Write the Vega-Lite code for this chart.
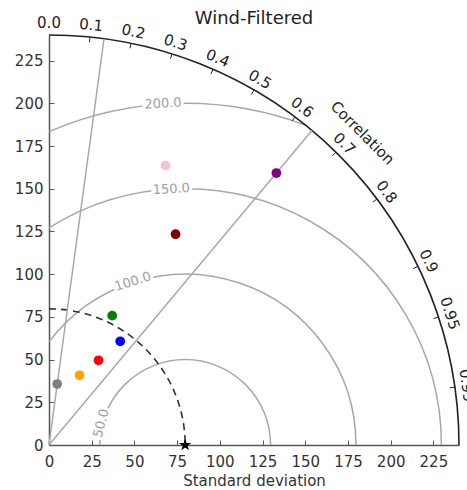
{
  "$schema": "https://vega.github.io/schema/vega-lite/v6.json",
  "width": 410,
  "height": 410,
  "autosize": {"type": "none"},
  "padding": {"left": 49, "top": 35, "right": 8, "bottom": 45},
  "title": {"text": "Wind-Filtered", "font": "DejaVu Sans", "fontSize": 18, "fontWeight": "normal", "color": "#222", "frame": "group", "anchor": "middle", "offset": -12},
  "config": {
    "view": {"stroke": null},
    "font": "DejaVu Sans",
    "axis": {"labelFont": "DejaVu Sans", "titleFont": "DejaVu Sans"}
  },
  "datasets": {
    "rms": [
      {"cx": 79.7, "cy": 0, "r": 50, "t1": -90, "t2": 90},
      {"cx": 79.7, "cy": 0, "r": 100, "t1": -52.84, "t2": 90},
      {"cx": 79.7, "cy": 0, "r": 150, "t1": -32.09, "t2": 90},
      {"cx": 79.7, "cy": 0, "r": 200, "t1": -23.48, "t2": 20.67}
    ],
    "outer": [{"cx": 0, "cy": 0, "r": 240, "t1": 0, "t2": 90}],
    "refcircle": [{"cx": 0, "cy": 0, "r": 79.7}],
    "corrlines": [
      {"x1": 0, "y1": 0, "x2": 32.2, "y2": 237.8},
      {"x1": 0, "y1": 0, "x2": 153.9, "y2": 184.1}
    ],
    "ticks": [
      {"x1": 24.0, "y1": 238.8, "x2": 23.7, "y2": 235.8},
      {"x1": 48.0, "y1": 235.15, "x2": 47.4, "y2": 232.2},
      {"x1": 72.0, "y1": 228.9, "x2": 71.1, "y2": 226.1},
      {"x1": 96.0, "y1": 220.0, "x2": 94.8, "y2": 217.2},
      {"x1": 120.0, "y1": 207.8, "x2": 118.5, "y2": 205.2},
      {"x1": 144.0, "y1": 192.0, "x2": 142.2, "y2": 189.6},
      {"x1": 168.0, "y1": 171.4, "x2": 165.9, "y2": 169.25},
      {"x1": 192.0, "y1": 144.0, "x2": 189.6, "y2": 142.2},
      {"x1": 216.0, "y1": 104.6, "x2": 213.3, "y2": 103.3},
      {"x1": 228.0, "y1": 74.9, "x2": 225.15, "y2": 74.0},
      {"x1": 237.6, "y1": 33.86, "x2": 234.6, "y2": 33.43}
    ],
    "corrlabels": [
      {"label": "0.0", "x": 0, "y": 247, "angle": 0},
      {"label": "0.1", "x": 24.7, "y": 245.8, "angle": 5.74},
      {"label": "0.2", "x": 49.4, "y": 242.0, "angle": 11.54},
      {"label": "0.3", "x": 74.1, "y": 235.6, "angle": 17.46},
      {"label": "0.4", "x": 98.8, "y": 226.4, "angle": 23.58},
      {"label": "0.5", "x": 123.5, "y": 213.9, "angle": 30},
      {"label": "0.6", "x": 148.2, "y": 197.6, "angle": 36.87},
      {"label": "0.7", "x": 172.9, "y": 176.4, "angle": 44.43},
      {"label": "0.8", "x": 197.6, "y": 148.2, "angle": 53.13},
      {"label": "0.9", "x": 222.3, "y": 107.7, "angle": 64.16},
      {"label": "0.95", "x": 234.65, "y": 77.1, "angle": 71.81},
      {"label": "0.99", "x": 244.5, "y": 34.8, "angle": 81.89},
      {"label": "Correlation", "x": 183.5, "y": 182.6, "angle": 45}
    ],
    "rmslabels": [
      {"label": "50.0", "x": 30.6, "y": 12.7, "angle": -75},
      {"label": "100.0", "x": 49.1, "y": 95.7, "angle": -17.6},
      {"label": "150.0", "x": 71.6, "y": 149.8, "angle": -3},
      {"label": "200.0", "x": 66.7, "y": 199.8, "angle": -3.7}
    ],
    "models": [
      {"model": "pink", "std": 68.2, "y": 163.6},
      {"model": "purple", "std": 133.1, "y": 159.2},
      {"model": "maroon", "std": 74.1, "y": 123.4},
      {"model": "green", "std": 37.0, "y": 75.7},
      {"model": "blue", "std": 41.7, "y": 60.7},
      {"model": "red", "std": 29.0, "y": 49.6},
      {"model": "orange", "std": 17.9, "y": 40.8},
      {"model": "gray", "std": 4.8, "y": 35.7}
    ],
    "reference": [{"std": 79.7, "y": 0}]
  },
  "layer": [
    {
      "data": {"name": "rms"},
      "mark": {"type": "arc", "filled": false, "stroke": "#a8a8a8", "strokeWidth": 1.5},
      "encoding": {
        "x": {"field": "cx", "type": "quantitative", "scale": {"domain": [0, 240], "nice": false, "zero": true},
              "axis": {"values": [0, 25, 50, 75, 100, 125, 150, 175, 200, 225], "title": "Standard deviation", "grid": false, "tickSize": -5, "labelPadding": 14, "labelFlush": false, "labelFontSize": 15, "labelColor": "#333", "titleFontSize": 15, "titleFontWeight": "normal", "titleColor": "#333", "titlePadding": 4, "domainColor": "#555", "domainWidth": 1.5, "tickColor": "#555", "tickWidth": 1}},
        "y": {"field": "cy", "type": "quantitative", "scale": {"domain": [0, 240], "nice": false, "zero": true},
              "axis": {"values": [0, 25, 50, 75, 100, 125, 150, 175, 200, 225], "title": null, "grid": false, "tickSize": -5, "labelPadding": 11, "labelFlush": false, "labelFontSize": 15, "labelColor": "#333", "domainColor": "#555", "domainWidth": 1.5, "tickColor": "#555", "tickWidth": 1}},
        "radius": {"field": "r", "type": "quantitative", "stack": null, "scale": {"type": "linear", "domain": [0, 240], "range": [0, 410], "zero": true}},
        "radius2": {"field": "r"},
        "theta": {"field": "t1", "type": "quantitative", "stack": null, "scale": {"domain": [0, 360], "range": [0, 6.283185307179586]}},
        "theta2": {"field": "t2"}
      }
    },
    {
      "data": {"name": "outer"},
      "mark": {"type": "arc", "filled": false, "stroke": "#222", "strokeWidth": 1.6},
      "encoding": {
        "x": {"field": "cx", "type": "quantitative"},
        "y": {"field": "cy", "type": "quantitative"},
        "radius": {"field": "r", "type": "quantitative", "stack": null},
        "radius2": {"field": "r"},
        "theta": {"field": "t1", "type": "quantitative", "stack": null},
        "theta2": {"field": "t2"}
      }
    },
    {
      "data": {"name": "refcircle"},
      "mark": {"type": "point", "filled": false, "shape": "M 0 -1 A 1 1 0 0 1 1 0", "stroke": "#333", "strokeWidth": 1.6, "strokeDash": [7, 5], "opacity": 1},
      "encoding": {
        "x": {"field": "cx", "type": "quantitative"},
        "y": {"field": "cy", "type": "quantitative"},
        "size": {"field": "r", "type": "quantitative", "scale": {"type": "pow", "exponent": 2, "domain": [0, 240], "range": [0, 672400]}, "legend": null}
      }
    },
    {
      "data": {"name": "corrlines"},
      "mark": {"type": "rule", "color": "#a8a8a8", "strokeWidth": 1.5},
      "encoding": {
        "x": {"field": "x1", "type": "quantitative"},
        "y": {"field": "y1", "type": "quantitative"},
        "x2": {"field": "x2"},
        "y2": {"field": "y2"}
      }
    },
    {
      "data": {"name": "ticks"},
      "mark": {"type": "rule", "color": "#222", "strokeWidth": 1},
      "encoding": {
        "x": {"field": "x1", "type": "quantitative"},
        "y": {"field": "y1", "type": "quantitative"},
        "x2": {"field": "x2"},
        "y2": {"field": "y2"}
      }
    },
    {
      "data": {"name": "corrlabels"},
      "mark": {"type": "text", "font": "DejaVu Sans", "fontSize": 15, "color": "#222", "align": "center", "baseline": "middle"},
      "encoding": {
        "x": {"field": "x", "type": "quantitative"},
        "y": {"field": "y", "type": "quantitative"},
        "text": {"field": "label"},
        "angle": {"field": "angle", "type": "quantitative", "scale": null}
      }
    },
    {
      "data": {"name": "rmslabels"},
      "mark": {"type": "text", "font": "DejaVu Sans", "fontSize": 13, "color": "white", "stroke": "white", "strokeWidth": 6, "align": "center", "baseline": "middle"},
      "encoding": {
        "x": {"field": "x", "type": "quantitative"},
        "y": {"field": "y", "type": "quantitative"},
        "text": {"field": "label"},
        "angle": {"field": "angle", "type": "quantitative", "scale": null}
      }
    },
    {
      "data": {"name": "rmslabels"},
      "mark": {"type": "text", "font": "DejaVu Sans", "fontSize": 13, "color": "#a0a0a0", "align": "center", "baseline": "middle"},
      "encoding": {
        "x": {"field": "x", "type": "quantitative"},
        "y": {"field": "y", "type": "quantitative"},
        "text": {"field": "label"},
        "angle": {"field": "angle", "type": "quantitative", "scale": null}
      }
    },
    {
      "data": {"name": "models"},
      "mark": {"type": "point", "shape": "circle", "filled": true, "size": 95, "opacity": 1},
      "encoding": {
        "x": {"field": "std", "type": "quantitative"},
        "y": {"field": "y", "type": "quantitative"},
        "color": {"field": "model", "type": "nominal", "legend": null,
                  "scale": {"domain": ["pink", "purple", "maroon", "green", "blue", "red", "orange", "gray"],
                            "range": ["#ffc0cb", "#800080", "#800000", "#008000", "#0000ff", "#ff0000", "#ffa500", "#808080"]}}
      }
    },
    {
      "data": {"name": "reference"},
      "mark": {"type": "point", "shape": "M0,-1L0.2245,-0.309L0.951,-0.309L0.363,0.118L0.588,0.809L0,0.382L-0.588,0.809L-0.363,0.118L-0.951,-0.309L-0.2245,-0.309Z", "filled": true, "color": "black", "size": 170, "opacity": 1},
      "encoding": {
        "x": {"field": "std", "type": "quantitative"},
        "y": {"field": "y", "type": "quantitative"}
      }
    }
  ]
}
